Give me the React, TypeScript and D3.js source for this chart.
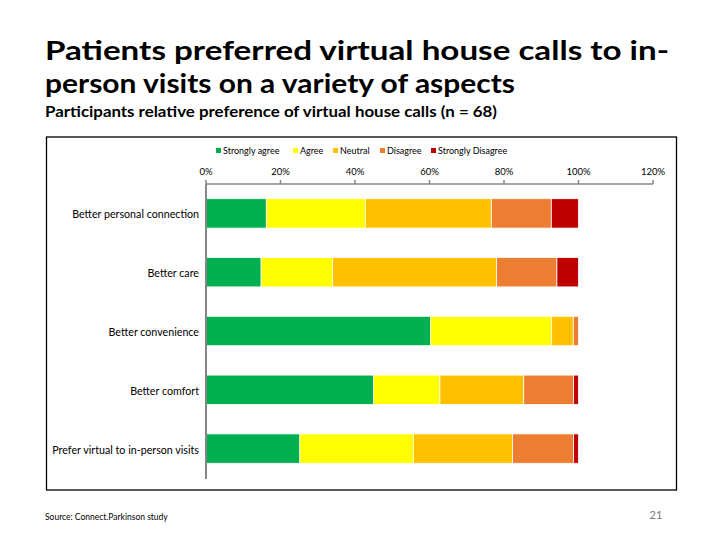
import React from "react";
import * as d3 from "d3";

const categories = [
  "Better personal connection",
  "Better care",
  "Better convenience",
  "Better comfort",
  "Prefer virtual to in-person visits",
];
const seriesNames = ["Strongly agree", "Agree", "Neutral", "Disagree", "Strongly Disagree"];
const stronglyAgree = [16.2, 14.8, 60.3, 45.0, 25.2];
const agree = [26.6, 19.2, 32.5, 17.8, 30.5];
const neutral = [33.8, 44.0, 5.8, 22.5, 26.6];
const disagree = [16.1, 16.2, 1.4, 13.4, 16.4];
const stronglyDisagree = [7.3, 5.8, 0, 1.3, 1.3];
const ticks = [0, 20, 40, 60, 80, 100, 120];
const colors = ["#00B050", "#FFFF00", "#FFC000", "#ED7D31", "#C00000"];

const FONT = "Lato, 'Open Sans', sans-serif";

export default function App() {
  const rows = categories.map((c, i) => ({
    cat: c,
    "Strongly agree": stronglyAgree[i],
    Agree: agree[i],
    Neutral: neutral[i],
    Disagree: disagree[i],
    "Strongly Disagree": stronglyDisagree[i],
  }));
  const stack = d3.stack<any>().keys(seriesNames);
  const layers = stack(rows);
  const x = d3.scaleLinear().domain([0, 120]).range([206, 653]);
  const y = d3.scaleBand<string>().domain(categories).range([184, 478]).paddingInner(0.5).paddingOuter(0.25);
  const color = d3.scaleOrdinal<string, string>().domain(seriesNames).range(colors);

  const legendX = [216, 293, 333, 380, 431];

  return (
    <svg width={720} height={540} style={{ position: "absolute", left: 0, top: 0, background: "#fff" }}>
      <rect x={0} y={0} width={720} height={540} fill="#fff" />
      <text x={45} y={60} fontFamily={FONT} fontWeight={700} fontSize={27} fill="#000" textLength={624} lengthAdjust="spacingAndGlyphs">
        Patients preferred virtual house calls to in-
      </text>
      <text x={45} y={93} fontFamily={FONT} fontWeight={700} fontSize={27} fill="#000" textLength={470} lengthAdjust="spacingAndGlyphs">
        person visits on a variety of aspects
      </text>
      <text x={45} y={117} fontFamily={FONT} fontWeight={700} fontSize={16} fill="#000" textLength={452} lengthAdjust="spacingAndGlyphs">
        Participants relative preference of virtual house calls (n = 68)
      </text>

      <rect x={46.5} y={137} width={630} height={353} fill="none" stroke="#000" strokeWidth={1.3} />

      {seriesNames.map((s, i) => (
        <g key={s}>
          <rect x={legendX[i]} y={148} width={5} height={5} fill={color(s)} />
          <text x={legendX[i] + 7} y={154} fontFamily={FONT} fontSize={9} fill="#000">
            {s}
          </text>
        </g>
      ))}

      {/* top axis */}
      <line x1={x(0)} x2={x(120)} y1={184} y2={184} stroke="#868686" strokeWidth={1.5} />
      {ticks.map((t) => (
        <g key={t}>
          <line x1={x(t)} x2={x(t)} y1={180} y2={184} stroke="#868686" strokeWidth={1.5} />
          <text x={x(t)} y={175} textAnchor="middle" fontFamily={FONT} fontSize={9.5} fill="#000">
            {t}%
          </text>
        </g>
      ))}

      {layers.map((layer) => (
        <g key={layer.key}>
          {layer.map((d, j) => (
            <rect
              key={j}
              x={x(d[0])}
              y={y(categories[j])}
              width={Math.max(0, x(d[1]) - x(d[0]))}
              height={y.bandwidth()}
              fill={color(layer.key)}
              stroke="#fff"
              strokeWidth={d[1] - d[0] > 0 ? 0.8 : 0}
            />
          ))}
        </g>
      ))}
      <line x1={x(0)} x2={x(0)} y1={184} y2={479} stroke="#868686" strokeWidth={2} />

      {categories.map((c) => (
        <text key={c} x={199} y={(y(c) as number) + y.bandwidth() / 2 + 5} textAnchor="end" fontFamily={FONT} fontSize={10.7} fill="#000">
          {c}
        </text>
      ))}

      <text x={45} y={520} fontFamily={FONT} fontSize={8.5} fill="#000">
        Source: Connect.Parkinson study
      </text>
      <text x={656} y={519} textAnchor="middle" fontFamily={FONT} fontSize={11} fill="#777">
        21
      </text>
    </svg>
  );
}
